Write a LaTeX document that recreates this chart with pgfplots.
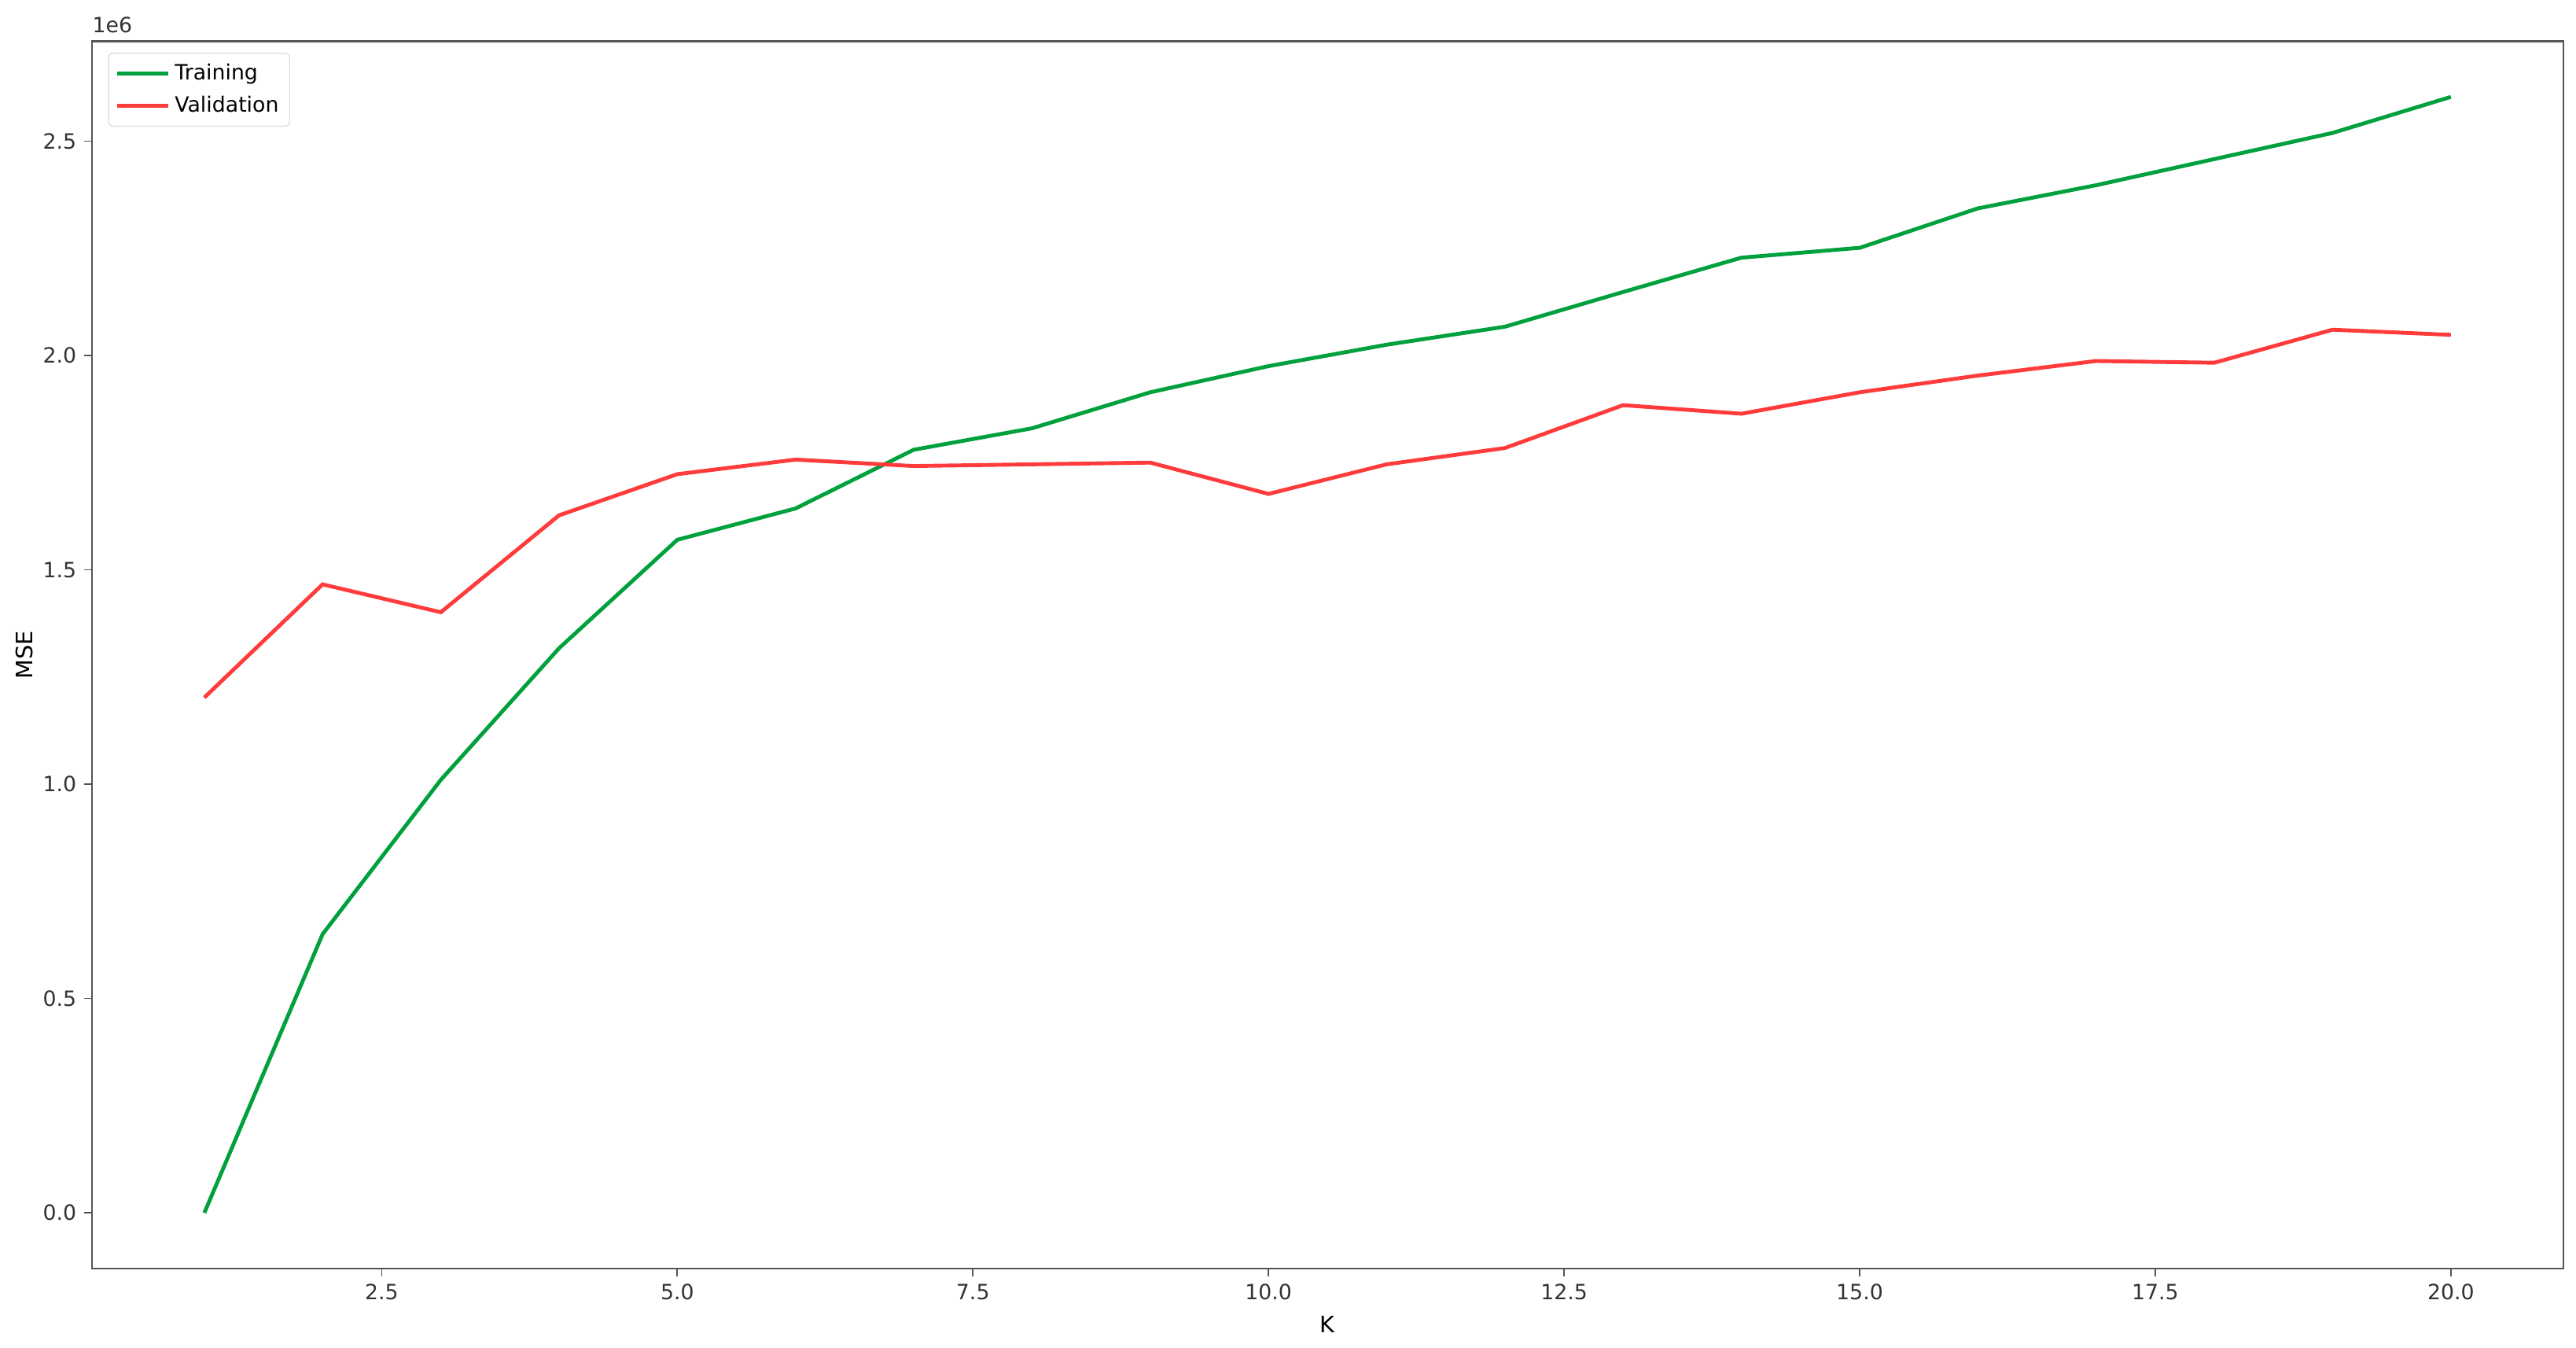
\documentclass[border=0pt]{standalone}
\usepackage{fontspec}
\setmainfont{DejaVu Sans}
\usepackage{pgfplots}
\pgfplotsset{compat=1.18}
\definecolor{trainc}{HTML}{00A03C}
\definecolor{valc}{HTML}{FF3B3B}
\definecolor{axc}{HTML}{555555}

\begin{document}
\begin{tikzpicture}
\begin{axis}[
  name=ax,
  scale only axis,
  width=38.4cm,height=19.07cm,
  xmin=0.05,xmax=20.95,
  ymin=-130000,ymax=2733000,
  axis line style={axc,line width=0.8pt},
  tick align=outside,
  major tick length=0.12cm,
  tick style={axc,line width=0.6pt},
  xtick={2.5,5,7.5,10,12.5,15,17.5,20},
  ytick={0,500000,1000000,1500000,2000000,2500000},
  xtick pos=bottom,ytick pos=left,
  scaled y ticks=base 10:-6,
  ytick scale label code/.code={1e6},
  every y tick scale label/.style={at={(rel axis cs:0,1)},anchor=south west,inner sep=0pt,yshift=0.12cm},
  /pgf/number format/.cd,fixed,fixed zerofill,precision=1,assume math mode=true,
  /pgfplots/.cd,
  tick label style={font=\fontsize{9.3}{11}\selectfont,text=black!80},
  label style={font=\fontsize{9.3}{11}\selectfont,text=black!80},
  xlabel={K},ylabel={MSE},
  every axis x label/.style={at={([yshift=-0.87cm]rel axis cs:0.5,0)},anchor=center},
  every axis y label/.style={at={([xshift=-1.05cm]rel axis cs:0,0.5)},anchor=center,rotate=90},
  legend style={at={(rel axis cs:0,1)},anchor=north west,xshift=0.25cm,yshift=-0.18cm,
    draw=black!15,rounded corners=2pt,font=\fontsize{9.3}{11}\selectfont,
    row sep=0.05cm,inner sep=0.1cm},
  legend cell align=left,
  legend image code/.code={\draw[#1] (0cm,0cm) -- (0.8cm,0cm);},
]
\addplot[trainc,line width=1.7pt] coordinates {
(1,0)(2,650000)(3,1010000)(4,1317000)(5,1570000)(6,1643000)(7,1780000)(8,1830000)
(9,1914000)(10,1975000)(11,2025000)(12,2067000)(13,2148000)(14,2228000)(15,2251000)
(16,2343000)(17,2397000)(18,2458000)(19,2519000)(20,2603000)};
\addlegendentry{Training}
\addplot[valc,line width=1.7pt] coordinates {
(1,1202000)(2,1466000)(3,1401000)(4,1627000)(5,1723000)(6,1757000)(7,1742000)(8,1746000)
(9,1750000)(10,1677000)(11,1746000)(12,1784000)(13,1884000)(14,1864000)(15,1914000)
(16,1953000)(17,1987000)(18,1983000)(19,2060000)(20,2048000)};
\addlegendentry{Validation}
\end{axis}
\pgfresetboundingbox
\path (ax.south west) ++(-1.43cm,-1.23cm);
\path (ax.north east) ++(0.2cm,0.64cm);
\end{tikzpicture}
\end{document}
